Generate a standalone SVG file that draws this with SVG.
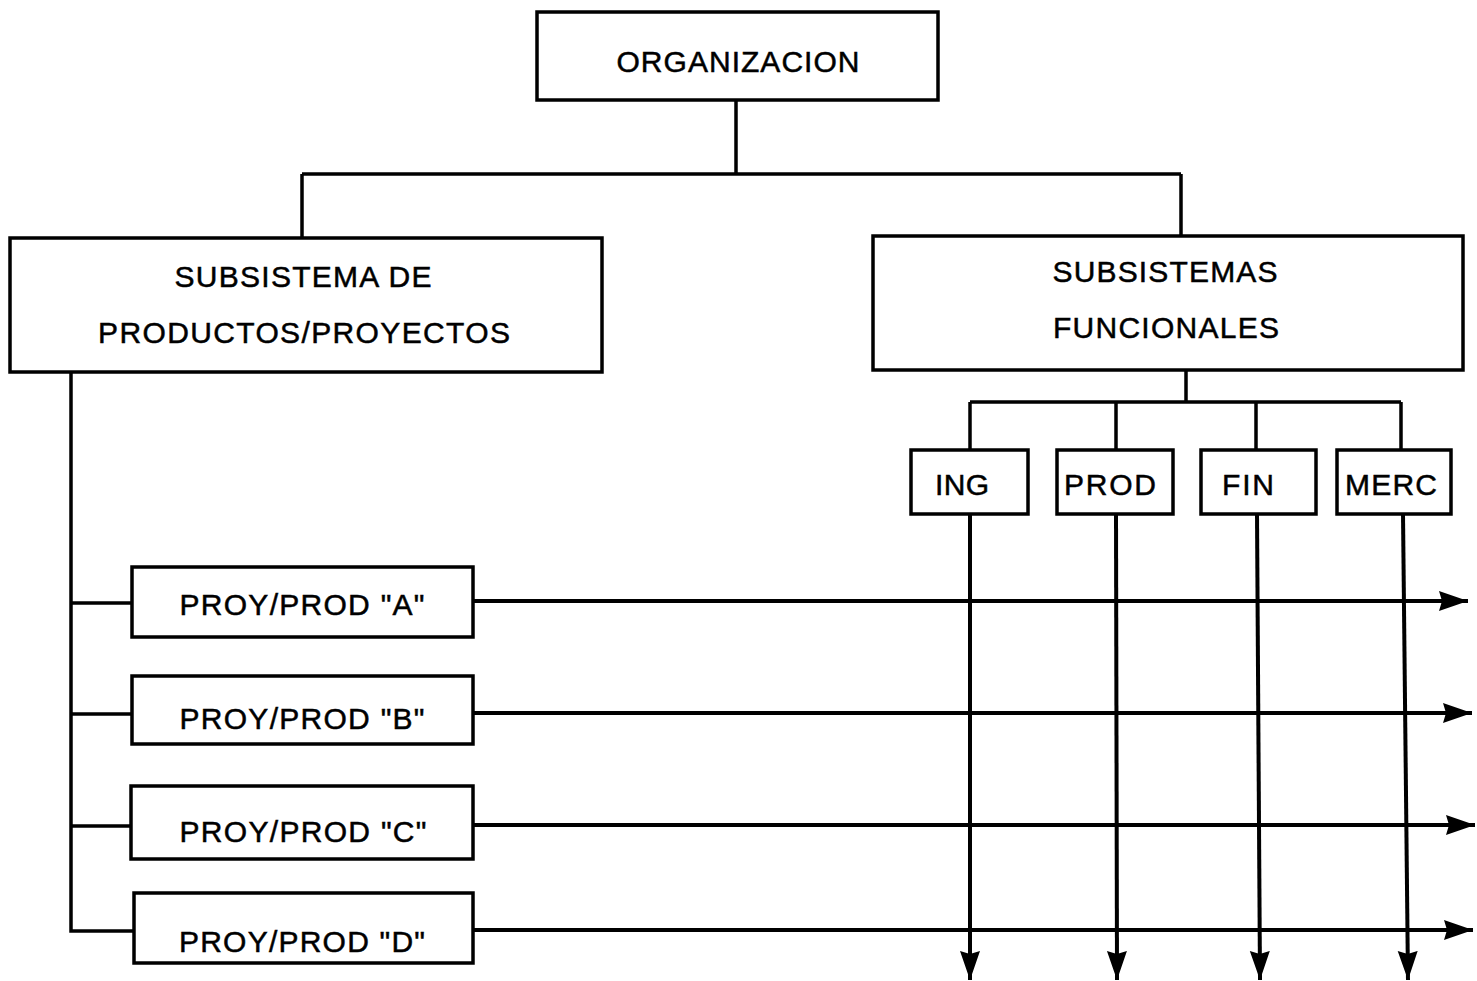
<svg xmlns="http://www.w3.org/2000/svg" width="1477" height="981" viewBox="0 0 1477 981">
  <style>
    .box { fill: #ffffff; stroke: #000000; stroke-width: 3.5; }
    .lbl { font-family: "Liberation Sans", Arial, sans-serif; font-size: 30px; fill: #000000; stroke: #000000; stroke-width: 0.5; text-anchor: middle; }
    .wire { fill: none; stroke: #000000; stroke-width: 3.5; }
    .flow { fill: none; stroke: #000000; stroke-width: 4; }
  </style>
  <defs>
    <marker id="arrowR" markerUnits="userSpaceOnUse" markerWidth="32" markerHeight="22" refX="29" refY="10" orient="auto">
      <path d="M0,0 L29,10 L0,20 L3,10 Z" fill="#000000"/>
    </marker>
  </defs>
  <rect width="1477" height="981" fill="#ffffff"/>

  <!-- hierarchy lines and matrix flows -->
  <g id="connectors">
    <path class="wire" d="M736,100 V174 M302,174 H1181 M302,174 V238 M1181,174 V236"/>
    <path class="wire" d="M1186,370 V402 M970,402 H1401 M970,402 V450 M1116,402 V450 M1256,402 V450 M1401,402 V450"/>
    <path class="wire" d="M71,372 V931 H134 M71,603 H132 M71,714 H132 M71,826 H131"/>
    <!-- product/project flows to the right -->
    <line class="flow" x1="473" y1="601" x2="1468" y2="601" marker-end="url(#arrowR)"/>
    <line class="flow" x1="473" y1="713" x2="1472" y2="713" marker-end="url(#arrowR)"/>
    <line class="flow" x1="473" y1="825" x2="1475" y2="825" marker-end="url(#arrowR)"/>
    <line class="flow" x1="473" y1="930" x2="1473" y2="930" marker-end="url(#arrowR)"/>
    <!-- functional flows downward -->
    <line class="flow" x1="970" y1="514" x2="970" y2="980" marker-end="url(#arrowR)"/>
    <line class="flow" x1="1116" y1="514" x2="1117" y2="980" marker-end="url(#arrowR)"/>
    <line class="flow" x1="1257" y1="514" x2="1260" y2="980" marker-end="url(#arrowR)"/>
    <line class="flow" x1="1403" y1="514" x2="1408" y2="980" marker-end="url(#arrowR)"/>
  </g>

  <g id="organizacion">
    <rect class="box" x="537" y="12" width="401" height="88"/>
    <text class="lbl" x="738" y="72" textLength="243" lengthAdjust="spacing">ORGANIZACION</text>
  </g>

  <g id="subsistema-productos">
    <rect class="box" x="10" y="238" width="592" height="134"/>
    <text class="lbl" x="303" y="287" textLength="257" lengthAdjust="spacing">SUBSISTEMA DE</text>
    <text class="lbl" x="304" y="343" textLength="412" lengthAdjust="spacing">PRODUCTOS/PROYECTOS</text>
  </g>

  <g id="subsistemas-funcionales">
    <rect class="box" x="873" y="236" width="590" height="134"/>
    <text class="lbl" x="1165" y="282" textLength="225" lengthAdjust="spacing">SUBSISTEMAS</text>
    <text class="lbl" x="1166" y="338" textLength="226" lengthAdjust="spacing">FUNCIONALES</text>
  </g>

  <g id="ing">
    <rect class="box" x="911" y="450" width="117" height="64"/>
    <text class="lbl" x="962" y="495" textLength="54" lengthAdjust="spacing">ING</text>
  </g>
  <g id="prod">
    <rect class="box" x="1057" y="450" width="116" height="64"/>
    <text class="lbl" x="1110" y="495" textLength="92" lengthAdjust="spacing">PROD</text>
  </g>
  <g id="fin">
    <rect class="box" x="1201" y="450" width="115" height="64"/>
    <text class="lbl" x="1248" y="495" textLength="52" lengthAdjust="spacing">FIN</text>
  </g>
  <g id="merc">
    <rect class="box" x="1337" y="450" width="114" height="64"/>
    <text class="lbl" x="1391" y="495" textLength="92" lengthAdjust="spacing">MERC</text>
  </g>

  <g id="proy-a">
    <rect class="box" x="132" y="567" width="341" height="70"/>
    <text class="lbl" x="302" y="615" textLength="245" lengthAdjust="spacing">PROY/PROD "A"</text>
  </g>
  <g id="proy-b">
    <rect class="box" x="132" y="676" width="341" height="68"/>
    <text class="lbl" x="302" y="729" textLength="245" lengthAdjust="spacing">PROY/PROD "B"</text>
  </g>
  <g id="proy-c">
    <rect class="box" x="131" y="786" width="342" height="73"/>
    <text class="lbl" x="303" y="842" textLength="247" lengthAdjust="spacing">PROY/PROD "C"</text>
  </g>
  <g id="proy-d">
    <rect class="box" x="134" y="893" width="339" height="70"/>
    <text class="lbl" x="302" y="952" textLength="246" lengthAdjust="spacing">PROY/PROD "D"</text>
  </g>
</svg>
